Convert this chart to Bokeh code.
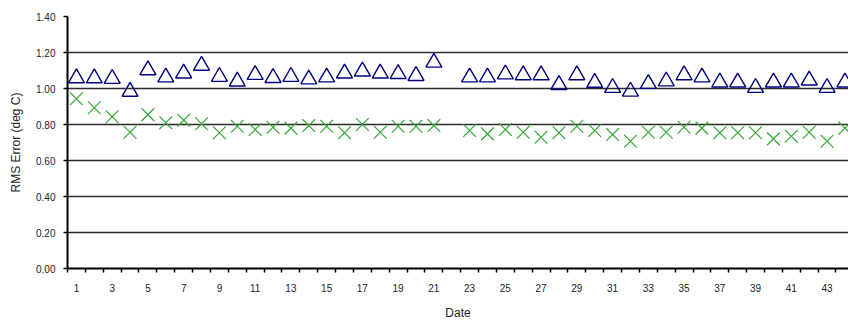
from bokeh.plotting import figure
from bokeh.models import Range1d, FixedTicker, NumeralTickFormatter
from bokeh.embed import file_html
from bokeh.resources import INLINE

# Dates (day 22 has no data)
dates = [1, 2, 3, 4, 5, 6, 7, 8, 9, 10, 11, 12, 13, 14, 15, 16, 17, 18, 19, 20, 21,
         23, 24, 25, 26, 27, 28, 29, 30, 31, 32, 33, 34, 35, 36, 37, 38, 39, 40, 41, 42, 43, 44]

# Upper series (blue triangles)
rms_tri = [1.07, 1.07, 1.067, 0.995, 1.115, 1.075, 1.097, 1.14, 1.078, 1.052, 1.089, 1.072, 1.078,
           1.064, 1.075, 1.097, 1.108, 1.097, 1.094, 1.083, 1.157,
           1.075, 1.075, 1.092, 1.087, 1.087, 1.033, 1.087, 1.045, 1.017, 0.996, 1.039, 1.053,
           1.087, 1.075, 1.047, 1.047, 1.017, 1.047, 1.047, 1.058, 1.017, 1.047]

# Lower series (green crosses)
rms_x = [0.943, 0.893, 0.843, 0.757, 0.855, 0.81, 0.824, 0.804, 0.754, 0.79, 0.772, 0.785, 0.78,
         0.794, 0.79, 0.754, 0.80, 0.757, 0.79, 0.79, 0.794,
         0.767, 0.748, 0.772, 0.757, 0.729, 0.754, 0.79, 0.767, 0.744, 0.707, 0.757, 0.757,
         0.785, 0.78, 0.754, 0.754, 0.754, 0.72, 0.735, 0.757, 0.707, 0.78]

x_labels = [1, 3, 5, 7, 9, 11, 13, 15, 17, 19, 21, 23, 25, 27, 29, 31, 33, 35, 37, 39, 41, 43]
y_ticks = [0.0, 0.2, 0.4, 0.6, 0.8, 1.0, 1.2, 1.4]

FONT = "Liberation Sans"

p = figure(width=848, height=322, output_backend="svg", toolbar_location=None,
           x_range=Range1d(0.5, 44.2), y_range=Range1d(0, 1.4),
           min_border_left=67, min_border_right=0, min_border_top=16, min_border_bottom=52)
p.outline_line_color = None
p.background_fill_color = "white"
p.border_fill_color = "white"

# triangles are drawn centred on their bounding box (as in the source), via an offset range
off = 0.0127
p.extra_y_ranges = {"tri": Range1d(0 + off, 1.4 + off)}

p.xgrid.visible = False
p.ygrid.ticker = FixedTicker(ticks=y_ticks)
p.ygrid.grid_line_color = "#2a2a2a"
p.ygrid.grid_line_width = 1.5

# x axis
xa = p.xaxis[0]
xa.ticker = FixedTicker(ticks=x_labels, minor_ticks=[d + 0.5 for d in range(0, 45)])
xa.major_tick_out = 0
xa.major_tick_in = 0
xa.minor_tick_out = 4
xa.minor_tick_in = 0
xa.minor_tick_line_color = "black"
xa.minor_tick_line_width = 1.5
xa.axis_line_color = "black"
xa.axis_line_width = 2
xa.major_label_standoff = 11
xa.major_label_text_font = FONT
xa.major_label_text_font_size = "10px"
xa.major_label_text_color = "#222222"
xa.axis_label = "Date"
xa.axis_label_text_font = FONT
xa.axis_label_text_font_size = "12px"
xa.axis_label_text_font_style = "normal"
xa.axis_label_text_color = "#222222"
xa.axis_label_standoff = 11

# y axis
ya = p.yaxis[0]
ya.ticker = FixedTicker(ticks=y_ticks)
ya.formatter = NumeralTickFormatter(format="0.00")
ya.major_tick_out = 4
ya.major_tick_in = 0
ya.minor_tick_line_color = None
ya.major_tick_line_color = "black"
ya.major_tick_line_width = 1.5
ya.axis_line_color = "black"
ya.axis_line_width = 2
ya.major_label_standoff = 8
ya.major_label_text_font = FONT
ya.major_label_text_font_size = "10px"
ya.major_label_text_color = "#222222"
ya.axis_label = "RMS Error (deg C)"
ya.axis_label_text_font = FONT
ya.axis_label_text_font_size = "12px"
ya.axis_label_text_font_style = "normal"
ya.axis_label_text_color = "#222222"
ya.axis_label_standoff = 10

p.scatter(dates, rms_x, marker="x", size=18, line_color="#33a633", line_width=1.2)
p.scatter(dates, rms_tri, marker="triangle", size=16, line_color="#000080", line_width=1.4,
          fill_color=None, y_range_name="tri")

open("out.html", "w").write(file_html(p, INLINE))
